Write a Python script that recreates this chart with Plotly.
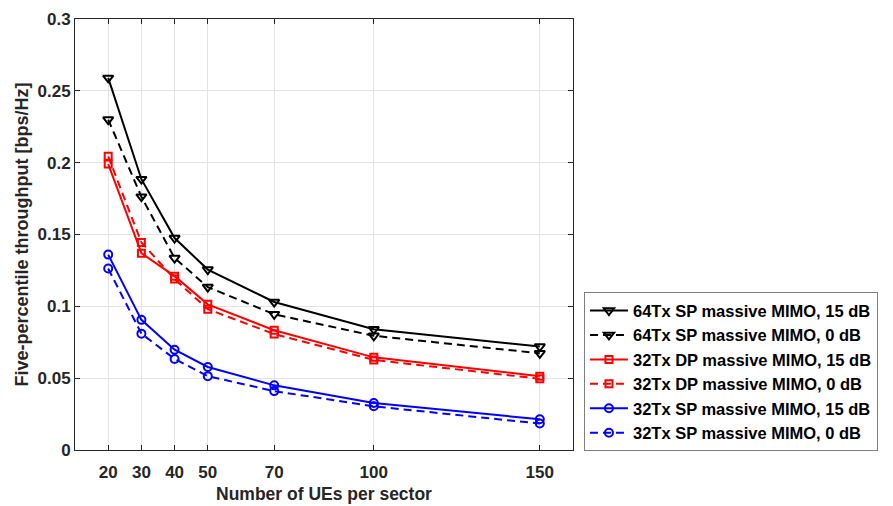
import plotly.graph_objects as go

ues = [20, 30, 40, 50, 70, 100, 150]
y_ticks = [0, 0.05, 0.1, 0.15, 0.2, 0.25, 0.3]
y_tick_labels = ["0", "0.05", "0.1", "0.15", "0.2", "0.25", "0.3"]

tx64_sp_15 = [0.259, 0.1885, 0.1475, 0.1256, 0.103, 0.084, 0.072]
tx64_sp_0 = [0.230, 0.1763, 0.1336, 0.1134, 0.0945, 0.0795, 0.0673]
tx32_dp_15 = [0.199, 0.137, 0.121, 0.1014, 0.0834, 0.0645, 0.0514]
tx32_dp_0 = [0.2044, 0.1445, 0.119, 0.098, 0.0807, 0.0627, 0.0496]
tx32_sp_15 = [0.136, 0.0906, 0.0698, 0.0578, 0.045, 0.0327, 0.0214]
tx32_sp_0 = [0.1263, 0.081, 0.0634, 0.0514, 0.041, 0.0304, 0.0184]

names = [
    "64Tx SP massive MIMO, 15 dB",
    "64Tx SP massive MIMO, 0 dB",
    "32Tx DP massive MIMO, 15 dB",
    "32Tx DP massive MIMO, 0 dB",
    "32Tx SP massive MIMO, 15 dB",
    "32Tx SP massive MIMO, 0 dB",
]
series = [tx64_sp_15, tx64_sp_0, tx32_dp_15, tx32_dp_0, tx32_sp_15, tx32_sp_0]
colors = ["#000000", "#000000", "#ff0000", "#ff0000", "#0000ff", "#0000ff"]
dashes = ["solid", "8px,5px", "solid", "8px,5px", "solid", "8px,5px"]
symbols = ["triangle-down-open", "triangle-down-open", "square-open", "square-open",
           "circle-open", "circle-open"]
sizes = [9, 9, 7, 7, 8, 8]

FONT = "Liberation Sans, Arial, sans-serif"
TXT = "#262626"

fig = go.Figure()
for name, ys, c, d, s, sz in zip(names, series, colors, dashes, symbols, sizes):
    fig.add_trace(go.Scatter(
        x=ues, y=ys, name=name, mode="lines+markers",
        line=dict(color=c, width=2, dash=d),
        marker=dict(symbol=s, size=sz, color=c, line=dict(width=2, color=c)),
    ))

# page has an 8px body margin; figure is sized so it fits the 893x506 window
fig.update_layout(
    width=885, height=498,
    margin=dict(l=67, r=320, t=11, b=56),
    paper_bgcolor="white", plot_bgcolor="white",
    font=dict(family=FONT, size=17, color=TXT),
    showlegend=True,
    legend=dict(
        x=1.022, y=-0.003, xanchor="left", yanchor="bottom",
        bgcolor="white", bordercolor="#7f7f7f", borderwidth=1,
        font=dict(family=FONT, size=16.5, color="#000000", weight="bold"),
        tracegroupgap=0, itemwidth=38,
    ),
)

fig.update_xaxes(
    range=[10, 160], automargin=False,
    tickmode="array", tickvals=ues, ticktext=[str(u) for u in ues],
    tickfont=dict(family=FONT, size=17, color=TXT, weight="bold"),
    ticklabelstandoff=7, ticklabeloverflow="allow",
    title=dict(text="<b>Number of UEs per sector</b>",
               font=dict(family=FONT, size=17.5, color=TXT), standoff=6),
    showgrid=True, gridcolor="#e3e3e3", gridwidth=1,
    showline=True, linecolor=TXT, linewidth=1, mirror="ticks",
    ticks="inside", ticklen=5, tickcolor=TXT,
    zeroline=False,
)
fig.update_yaxes(
    range=[0, 0.3], automargin=False,
    tickmode="array", tickvals=y_ticks, ticktext=y_tick_labels,
    tickfont=dict(family=FONT, size=17, color=TXT, weight="bold"),
    ticklabeloverflow="allow",
    title=dict(text="<b>Five-percentile throughput [bps/Hz]</b>",
               font=dict(family=FONT, size=18, color=TXT), standoff=4),
    showgrid=True, gridcolor="#e3e3e3", gridwidth=1,
    showline=True, linecolor=TXT, linewidth=1, mirror="ticks",
    ticks="inside", ticklen=5, tickcolor=TXT,
    zeroline=False,
)

fig.write_html("out.html")
